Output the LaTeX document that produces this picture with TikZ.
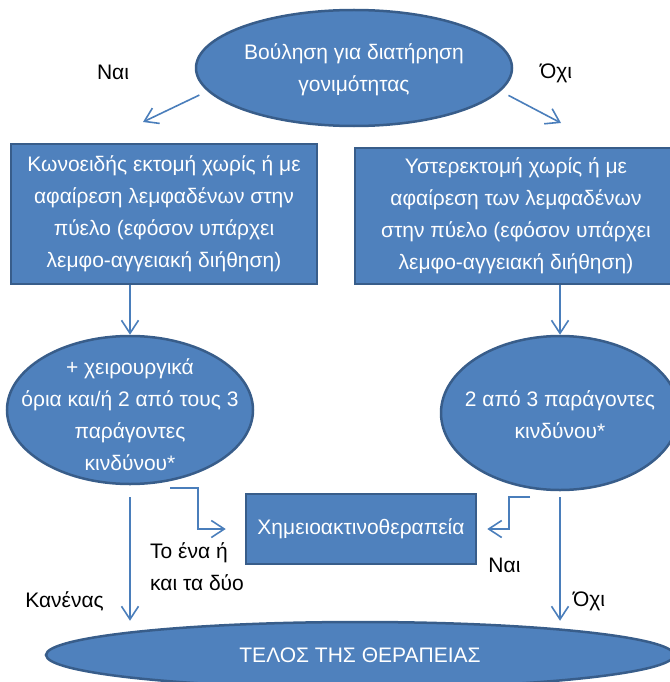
\documentclass[tikz,border=0pt]{standalone}
\usepackage{fontspec}
\setmainfont{Liberation Sans}
\usepackage{xcolor}
\usetikzlibrary{arrows.meta, positioning, shapes.geometric}

\definecolor{fillblue}{HTML}{4F81BD}
\definecolor{edgeblue}{HTML}{385D8A}
\definecolor{arrowblue}{HTML}{4A7EBB}

\begin{document}
\begin{tikzpicture}[
    x=1pt, y=-1pt,
    every node/.style={font=\fontsize{21}{32}\selectfont},
    blob/.style={ellipse, draw=edgeblue, line width=2.5pt, fill=fillblue},
    card/.style={draw=edgeblue, line width=2.5pt, fill=fillblue, text=white, align=center, inner sep=0pt},
    txt/.style={text=white, align=center, inner sep=0pt},
    lbl/.style={inner sep=0pt, text=black},
    arr/.style={draw=arrowblue, line width=1.6pt, -{Straight Barb[length=13pt,width=17pt]}},
  ]
  \useasboundingbox (0,0) rectangle (669,682);
  \node[blob, minimum width=316pt, minimum height=116pt] at (354,68) (wish) {};
  \node[txt] at ([yshift=-2pt]wish) (wisht) {Βούληση για διατήρηση\\γονιμότητας};
  \node[card, minimum width=306pt, minimum height=140pt] at (164,214) (cone)
    {Κωνοειδής εκτομή χωρίς ή με\\αφαίρεση λεμφαδένων στην\\πύελο (εφόσον υπάρχει\\λεμφο-αγγειακή διήθηση)};
  \node[card, minimum width=322pt, minimum height=136pt] at (516,216) (hyst)
    {Υστερεκτομή χωρίς ή με\\αφαίρεση των λεμφαδένων\\στην πύελο (εφόσον υπάρχει\\λεμφο-αγγειακή διήθηση)};
  \node[blob, minimum width=246pt, minimum height=148pt] at (130,410) (riskl) {};
  \node[txt] at ([yshift=-5pt]riskl) (risklt)
    {+ χειρουργικά\\όρια και/ή 2 από τους 3\\παράγοντες\\κινδύνου*};
  \node[blob, minimum width=238pt, minimum height=154pt] at (560,413) (riskr) {};
  \node[txt] at ([yshift=-2pt]riskr) (riskrt) {2 από 3 παράγοντες\\κινδύνου*};
  \node[card, minimum width=230pt, minimum height=70pt] at (361,529) (chemo) {Χημειοακτινοθεραπεία};
  \node[blob, minimum width=628pt, minimum height=66pt] at (360,655) (fin) {};
  \node[txt] at (fin) (fint) {ΤΕΛΟΣ ΤΗΣ ΘΕΡΑΠΕΙΑΣ};

  \coordinate (yesend) at (143,122);
  \coordinate (noend) at (561,123);
  \draw[arr, shorten <=9pt] (wish.189) -- (yesend);
  \draw[arr, shorten <=9pt] (wish.351) -- (noend);
  \node[lbl] at (113,72) (yes) {Ναι};
  \node[lbl] at (556,73) (no) {Όχι};

  \draw[arr] (cone.south -| riskl) -- (riskl);
  \draw[arr] (hyst.south -| riskr) -- (riskr);

  \draw[arr] ([shift={(40pt,-3pt)}]riskl.south) -| ([xshift=-47pt]chemo.west) -- ([xshift=-19pt]chemo.west);
  \draw[arr] ([shift={(-30pt,-6pt)}]riskr.south) -| ([xshift=32pt]chemo.east) -- ([xshift=10pt]chemo.east);
  \draw[arr] ([yshift=-12pt]riskl.south) -- (riskl.south |- fin.north);
  \draw[arr] ([yshift=-6pt]riskr.south) -- (riskr.south |- fin.north);

  \node[lbl, anchor=west, align=left] at (150,567) (both) {Το ένα ή\\και τα δύο};
  \node[lbl, right=11pt of chemo.south east] (yes2) {Ναι};
  \node[lbl, anchor=east] at (104,601) (none) {Κανένας};
  \node[lbl, anchor=west] at (573,601) (no2) {Όχι};
\end{tikzpicture}
\end{document}
